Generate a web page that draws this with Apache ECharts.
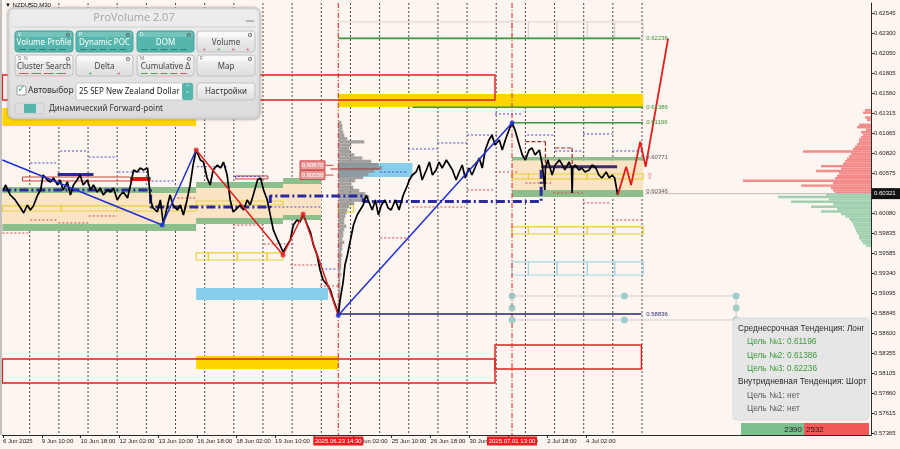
<!DOCTYPE html>
<html><head><meta charset="utf-8">
<script src="https://cdn.jsdelivr.net/npm/echarts@6.0.0/dist/echarts.min.js"></script>
<style>html,body{margin:0;padding:0;background:#fdf5ef;}#c{width:900px;height:449px;}</style>
</head><body><div id="c"></div>
<script>
// ---------------- DATA ----------------
const symbolTitle = '\u25BC NZDUSD,M30';
const yTicks = [0.62545,0.62300,0.62050,0.61805,0.61560,0.61315,0.61065,0.60820,0.60575,0.60080,0.59835,0.59585,0.59340,0.59095,0.58845,0.58600,0.58355,0.58105,0.57860,0.57615,0.57365];
const tickBars = [1,65,129,193,257,321,385,449,513,577,641,705,769,833,897,961];
const tickLabels = ['6 Jun 2025','9 Jun 10:00','10 Jun 18:00','12 Jun 02:00','13 Jun 10:00','16 Jun 18:00','18 Jun 02:00','19 Jun 10:00','20 Jun 18:00','24 Jun 02:00','25 Jun 10:00','26 Jun 18:00','30 Jun 02:00','1 Jul 10:00','2 Jul 18:00','4 Jul 02:00'];
const daySeparators = [45,93,141,189,237,285,333,381,429,477,525,573,621,669,717,765,813,861,909,957,1005,1053];
const crossBars = [553, 839];
const crossLabels = ['2025.06.23 14:30','2025.07.01 13:00'];
const currentPrice = 0.60321;

// close line [bar, price]
const priceLine = [[2,0.60366],[5,0.60428],[13,0.60304],[21,0.60243],[30,0.60144],[35,0.60082],[41,0.60181],[46,0.60119],[51,0.60169],[58,0.60304],[63,0.60366],[67,0.60551],[74,0.60489],[79,0.60465],[84,0.60514],[91,0.60428],[95,0.60489],[100,0.60366],[107,0.60465],[112,0.60304],[117,0.60428],[123,0.60489],[128,0.60551],[133,0.60428],[140,0.60489],[145,0.60366],[150,0.60428],[156,0.60341],[161,0.60391],[166,0.60304],[173,0.60366],[178,0.60341],[183,0.60391],[189,0.60243],[194,0.60304],[199,0.60341],[206,0.60267],[211,0.60428],[216,0.60613],[222,0.60588],[227,0.60637],[232,0.60613],[239,0.60637],[244,0.60243],[248,0.60144],[255,0.60095],[260,0.60243],[265,0.59947],[272,0.60181],[276,0.60304],[281,0.60181],[288,0.60119],[293,0.60181],[298,0.60058],[304,0.60243],[309,0.60428],[314,0.60674],[319,0.60859],[326,0.60736],[331,0.60711],[337,0.60514],[342,0.60428],[347,0.60613],[354,0.60674],[359,0.60637],[364,0.60711],[370,0.60551],[375,0.60243],[380,0.60095],[387,0.60144],[392,0.60181],[397,0.60119],[403,0.60243],[408,0.60181],[413,0.60304],[420,0.60489],[425,0.60514],[430,0.60366],[436,0.60243],[441,0.60058],[446,0.59873],[453,0.59749],[457,0.59687],[462,0.59601],[469,0.59687],[474,0.59749],[479,0.59934],[485,0.59996],[490,0.59971],[495,0.60070],[502,0.59934],[507,0.59848],[512,0.59687],[518,0.59564],[523,0.59379],[528,0.59256],[535,0.59194],[540,0.59132],[545,0.59009],[551,0.58886],[553,0.58820],
[556,0.59009],[561,0.59231],[564,0.59441],[568,0.59564],[573,0.59749],[578,0.59934],[584,0.60058],[589,0.60119],[594,0.60181],[599,0.60304],[602,0.60243],[609,0.60119],[614,0.60243],[619,0.60058],[624,0.60181],[630,0.60243],[635,0.60144],[640,0.60119],[647,0.60243],[653,0.60119],[660,0.60304],[665,0.60391],[670,0.60489],[675,0.60551],[681,0.60588],[686,0.60674],[691,0.60489],[698,0.60613],[703,0.60711],[708,0.60551],[714,0.60613],[719,0.60711],[724,0.60637],[731,0.60736],[736,0.60674],[741,0.60613],[747,0.60489],[752,0.60588],[757,0.60674],[762,0.60514],[768,0.60637],[773,0.60551],[780,0.60674],[785,0.60761],[790,0.60637],[795,0.60859],[801,0.60983],[806,0.61045],[811,0.60921],[818,0.60983],[823,0.60859],[828,0.60983],[834,0.61106],[839,0.61193],[844,0.61106],[851,0.60921],[856,0.60798],[861,0.60736],[867,0.60859],[872,0.60884],[877,0.60798],[884,0.60859],[889,0.60674],[893,0.60366],[894,0.60637],[898,0.60736],[905,0.60551],[910,0.60674],[917,0.60736],[922,0.60674],[926,0.60613],[933,0.60711],[937,0.60637],[938,0.60329],[939,0.60637],[943,0.60674],[949,0.60613],[954,0.60637],[959,0.60588],[966,0.60613],[971,0.60674],[977,0.60637],[982,0.60551],[987,0.60514],[994,0.60588],[999,0.60514],[1004,0.60551],[1008,0.60514],[1013,0.60304]];

const zigzagPivots = [[0,0.60736],[263,0.59934],[319,0.60859],[462,0.59564],[495,0.60070],[553,0.58820],[839,0.61193]];
const projection = [[1013,0.60304],[1027,0.60653],[1035,0.60428],[1050,0.60962],[1059,0.60653],[1096,0.62236]];

// zones [barFrom, barTo, priceTop, priceBottom]
const goldBands = [[0,319,0.61378,0.61156],[553,1055,0.61550,0.61390],[319,553,0.58318,0.58157]];
const peachZones = [[0,319,0.60329,0.59947],[319,462,0.60391,0.60021],[462,525,0.60440,0.60058],[839,1055,0.60730,0.60366]];
const greenBands = [[0,319,0.60403,0.60329],[0,319,0.59947,0.59860],[319,462,0.60465,0.60391],[319,462,0.60021,0.59947],[462,525,0.60514,0.60440],[462,525,0.60058,0.59996],[839,1055,0.60773,0.60730],[839,1055,0.60366,0.60280]];
const skyBands = [[319,536,0.59157,0.59009],[553,675,0.60699,0.60526]];
const yellowBoxes = [[0,97,0.60169,0.60107],[97,189,0.60169,0.60107],[189,319,0.60169,0.60107],[319,462,0.60230,0.60181],[319,339,0.59589,0.59502],[339,387,0.59589,0.59502],[387,436,0.59589,0.59502],[436,462,0.59589,0.59502],[553,578,0.60181,0.60095],[839,866,0.60563,0.60502],[866,963,0.60563,0.60502],[963,1055,0.60563,0.60502],[839,866,0.59910,0.59823],[866,913,0.59910,0.59823],[913,963,0.59910,0.59823],[963,1008,0.59910,0.59823],[1008,1055,0.59910,0.59823]];
const lightBlueBoxes = [[839,866,0.59478,0.59317],[866,913,0.59478,0.59317],[913,963,0.59478,0.59317],[963,1008,0.59478,0.59317],[1008,1055,0.59478,0.59317]];
const grayBoxes = [[553,839,0.62440,0.62241],[839,866,0.62440,0.62241],[866,913,0.62440,0.62241],[913,963,0.62440,0.62241],[963,1008,0.62440,0.62241],[1008,1055,0.62440,0.62241]];
const redBoxes = [[0,811,0.61785,0.61476],[0,811,0.58281,0.57985],[811,1052,0.58454,0.58157]];
const redThinBoxes = [[33,211,0.60526,0.60477],[384,437,0.60539,0.60502]];
const redFilled = [[211,244,0.60526,0.60477]];

// short dotted levels [barFrom, barTo, price]
const blueDotted = [[95,142,0.60847],[142,189,0.60773],[46,92,0.60699],[191,239,0.60588],[239,282,0.60477],[320,370,0.60653],[381,425,0.60533],[428,525,0.60156],[525,553,0.59391],[622,668,0.60588],[668,716,0.60872],[716,765,0.60946],[765,815,0.61044],[811,857,0.61304],[864,910,0.61044],[910,956,0.60847],[956,1004,0.61057],[1004,1053,0.60847]];
const redDotted = [[46,92,0.59996],[92,142,0.59959],[142,189,0.60045],[0,46,0.59835],[288,321,0.60267],[380,430,0.59934],[430,479,0.59700],[474,523,0.59441],[523,556,0.59182],[622,668,0.59774],[675,762,0.60156],[765,811,0.60366],[811,848,0.60588],[861,907,0.60452],[907,956,0.60329],[956,1001,0.60206],[1004,1053,0.59996]];
const darkRedSteps = [[861,0.60962,894,0.60962],[894,0.60962,894,0.60699],[910,0.60884,938,0.60884],[938,0.60884,938,0.60653]];
const pocLines = [[540,622,0.60625]];
const navyPoc = [[0,0.60366],[244,0.60366],[244,0.60156],[441,0.60156],[441,0.60292],[594,0.60292],[594,0.60224],[887,0.60224],[887,0.60653]];
const navyShort = [[91,150,0.60557]];
const purplePoc = [[887,0.60653],[1012,0.60653]];

const targetLevels = [[553,1050,0.62236],[675,1055,0.61386],[839,1055,0.61196]];
const lowLevel = [[553,1052,0.58836]];
const levelLabels = [0.62236,0.61386,0.61196,0.60771,0.60346,0.58836];
const labelBar = 1060;
const priceTags = [[490,531,0.60670],[490,531,0.60550]];
const arrowMark = [[1060,0.60530]];

const forwardDots = [[839,0.59058],[1024,0.59058],[1208,0.59058],[839,0.58910],[1208,0.58910],[839,0.58762],[1024,0.58762],[1208,0.58762]];
const forwardLines = [[839,1208,0.59058],[839,1208,0.58762]];

// volume profiles
const midProfileTop = 0.61200, midProfileBin = 0.0004, midProfileAnchor = 553;
const midProfileVol = [3,4,4,5,6,9,26,13,11,12,16,24,33,40,44,36,30,25,17,13,15,21,27,31,24,16,11,9,8,7,6,6,8,6,5,5,4,6,4,4,3,4,3,3,3,3,2,3,2,2,2,2,2,2,2,2,1,1,1];
const sellTop = 0.61350, buyTop = 0.60310, sideBin = 0.0003;
const sellVol = [6,8,0,6,4,0,12,14,5,10,8,10,12,12,14,16,18,68,20,22,24,26,28,50,30,55,32,34,36,128,38,70,40,38,36];
const buyVol = [45,93,42,80,38,60,34,50,30,26,22,20,18,17,16,15,14,12,12,10,8,5];
const deltaBuy = 2390, deltaSell = 2532;

const panelTitle = 'ProVolume 2.07';
const panelButtons = ['Volume Profile','Dynamic POC','DOM','Volume','Cluster Search','Delta','Cumulative \u0394','Map'];
const panelTags = ['V','P','D','','S  N','','M','F'];
const panelActive = [true,true,true,false,false,false,false,false];
const instrument = '25 SEP New Zealand Dollar';
const infoLines = [
  ['Среднесрочная Тенденция: Лонг','head'],
  ['Цель №1: 0.61196','up'],
  ['Цель №2: 0.61386','up'],
  ['Цель №3: 0.62236','up'],
  ['Внутридневная Тенденция: Шорт','head'],
  ['Цель №1: нет','none'],
  ['Цель №2: нет','none']
];

// ---------------- CHART ----------------
const X_MAX = 1430, Y_MIN = 0.57343, Y_MAX = 0.62673;
const FONT = 'Liberation Sans, Arial, sans-serif';
const chart = echarts.init(document.getElementById('c'));

function T(style){
  return Object.assign({textAlign: style.align, textVerticalAlign: style.verticalAlign}, style);
}
function zoneSeries(data, style, z){
  return {type:'custom', silent:true, z, clip:true, data,
    renderItem(params, api){
      const a = api.coord([api.value(0), api.value(2)]);
      const b = api.coord([api.value(1), api.value(3)]);
      return {type:'rect', shape:{x:a[0], y:a[1], width:b[0]-a[0], height:b[1]-a[1]}, style:Object.assign({}, style)};
    }};
}
function hSegSeries(data, style, z){
  return {type:'custom', silent:true, z, clip:true, data,
    renderItem(params, api){
      const a = api.coord([api.value(0), api.value(2)]);
      const b = api.coord([api.value(1), api.value(2)]);
      return {type:'line', shape:{x1:a[0], y1:a[1], x2:b[0], y2:b[1]}, style:Object.assign({}, style)};
    }};
}
function segSeries(data, style, z){
  return {type:'custom', silent:true, z, clip:true, data,
    renderItem(params, api){
      const a = api.coord([api.value(0), api.value(1)]);
      const b = api.coord([api.value(2), api.value(3)]);
      return {type:'line', shape:{x1:a[0], y1:a[1], x2:b[0], y2:b[1]}, style:Object.assign({}, style)};
    }};
}
function vLineSeries(bars, style, z){
  return {type:'custom', silent:true, z, clip:true, data: bars.map(b => [b]),
    renderItem(params, api){
      const a = api.coord([api.value(0), Y_MAX]);
      const b = api.coord([api.value(0), Y_MIN]);
      return {type:'line', shape:{x1:a[0], y1:a[1], x2:b[0], y2:b[1]}, style:Object.assign({}, style)};
    }};
}
function profileSeries(top, bin, vols, anchor, dir, color, z){
  const scale = 1.6456; // bars per unit of volume width
  return {type:'custom', silent:true, z, clip:true,
    data: vols.map((v, i) => [top - i * bin, v]),
    renderItem(params, api){
      const p = api.value(0), v = api.value(1);
      if (!v) return null;
      const xEnd = anchor + dir * v * scale;
      const a = api.coord([Math.min(anchor, xEnd), p + bin / 2]);
      const b = api.coord([Math.max(anchor, xEnd), p - bin / 2]);
      return {type:'rect', shape:{x:a[0], y:a[1], width:b[0]-a[0], height:Math.max(1, b[1]-a[1])}, style:{fill:color}};
    }};
}
function lineSeries(data, color, width, z, dash){
  return {type:'line', data, z, silent:true, symbol:'none', animation:false,
    lineStyle:{color, width, type: dash || 'solid'}, emphasis:{disabled:true}};
}

const levelColors = ['#3a8f3a','#3a8f3a','#3a8f3a','#555555','#555555','#2a2a80'];

const series = [
  vLineSeries(daySeparators, {stroke:'#4a4a4a', lineWidth:1, lineDash:[2,2]}, 1),
  zoneSeries(grayBoxes, {fill:'none', stroke:'#d9d4d0', lineWidth:1}, 2),
  zoneSeries(peachZones, {fill:'#fbe4c4'}, 2),
  zoneSeries(greenBands, {fill:'#8dbf8d'}, 3),
  zoneSeries(goldBands, {fill:'#ffd500'}, 3),
  zoneSeries(skyBands, {fill:'#87ceeb'}, 3),
  zoneSeries(yellowBoxes, {fill:'none', stroke:'#e8cf3a', lineWidth:1.2}, 4),
  zoneSeries(lightBlueBoxes, {fill:'none', stroke:'#a6d6e6', lineWidth:1.2}, 4),
  zoneSeries(redBoxes, {fill:'none', stroke:'#e02020', lineWidth:1.4}, 4),
  zoneSeries(redThinBoxes, {fill:'none', stroke:'#c84040', lineWidth:1}, 4),
  zoneSeries(redFilled, {fill:'#e81010'}, 4),
  profileSeries(midProfileTop, midProfileBin, midProfileVol, midProfileAnchor, 1, 'rgba(140,140,140,0.8)', 5),
  profileSeries(sellTop, sideBin, sellVol, X_MAX, -1, 'rgba(242,128,128,0.9)', 5),
  profileSeries(buyTop, sideBin, buyVol, X_MAX, -1, 'rgba(150,204,168,0.9)', 5),
  hSegSeries([[1058, X_MAX, currentPrice]], {stroke:'#bdbdbd', lineWidth:1}, 5),
  hSegSeries(blueDotted, {stroke:'#4a4ad6', lineWidth:1, lineDash:[2,2]}, 5),
  hSegSeries(redDotted, {stroke:'#d24a4a', lineWidth:1, lineDash:[2,2]}, 5),
  segSeries(darkRedSteps, {stroke:'#9a2c2c', lineWidth:1.2, lineDash:[4,2]}, 5),
  hSegSeries(pocLines, {stroke:'#a83030', lineWidth:1}, 6),
  vLineSeries(crossBars, {stroke:'#e02020', lineWidth:1, lineDash:[5,2,1,2]}, 6),
  lineSeries(navyPoc, '#2a2a9e', 3, 6, [9,3,2,3]),
  hSegSeries(navyShort, {stroke:'#2a2a9e', lineWidth:3}, 6),
  lineSeries(purplePoc, '#3e2c6e', 3, 6),
  hSegSeries(targetLevels, {stroke:'#3d9a3d', lineWidth:1.6}, 6),
  hSegSeries(lowLevel, {stroke:'#22226e', lineWidth:1.5}, 6),
  hSegSeries(forwardLines, {stroke:'#cfcfcf', lineWidth:1}, 6),
  segSeries([[1208,0.59058,1208,0.58762]], {stroke:'#cfcfcf', lineWidth:1}, 6),
  {type:'scatter', data:forwardDots, z:7, silent:true, symbolSize:7, itemStyle:{color:'#8ec4bf'}},
  lineSeries(priceLine, '#000000', 1.7, 8),
  lineSeries(zigzagPivots.slice(0,3), '#1f2fd6', 1.5, 9),
  lineSeries(zigzagPivots.slice(2,6), '#e02020', 1.5, 9),
  lineSeries(zigzagPivots.slice(5,7), '#1f2fd6', 1.5, 9),
  {type:'scatter', data:zigzagPivots.slice(1), z:10, silent:true, symbolSize:5,
    itemStyle:{color: p => (p.dataIndex >= 1 && p.dataIndex <= 3) ? '#e02020' : '#1f2fd6'}},
  lineSeries(projection, '#e51c1c', 1.8, 9),
  {type:'custom', silent:true, z:11, clip:false, data: levelLabels.map(p => [labelBar, p]),
    renderItem(params, api){
      const pt = api.coord([api.value(0), api.value(1)]);
      return {type:'text', x:pt[0], y:pt[1], style:T({text: api.value(1).toFixed(5), fill: levelColors[params.dataIndex], font:'6px '+FONT, align:'left', verticalAlign:'middle'})};
    }},
  {type:'custom', silent:true, z:11, clip:false, data: arrowMark,
    renderItem(params, api){
      const pt = api.coord([api.value(0), api.value(1)]);
      return {type:'text', x:pt[0], y:pt[1], style:T({text:'\u21E7', fill:'#ee7b7b', font:'9px DejaVu Sans', align:'left', verticalAlign:'middle'})};
    }},
  {type:'custom', silent:true, z:11, clip:false, data: priceTags,
    renderItem(params, api){
      const a = api.coord([api.value(0), api.value(2)]);
      const b = api.coord([api.value(1), api.value(2)]);
      const c = api.coord([api.value(1) + 14, api.value(2)]);
      return {type:'group', children:[
        {type:'line', shape:{x1:b[0], y1:b[1], x2:c[0], y2:c[1]}, style:{stroke:'#d04040', lineWidth:1}},
        {type:'rect', shape:{x:a[0], y:a[1]-4.5, width:b[0]-a[0], height:9}, style:{fill:'#e99a9a', stroke:'#d04848', lineWidth:1}},
        {type:'text', x:(a[0]+b[0])/2, y:a[1], style:T({text: api.value(2).toFixed(5), fill:'#ffffff', font:'6px '+FONT, align:'center', verticalAlign:'middle'})}
      ]};
    }}
];

chart.setOption({
  backgroundColor:'#fdf5ef',
  animation:false,
  grid:{left:2, right:29, top:3, bottom:14},
  xAxis:{type:'value', min:0, max:X_MAX,
    axisLine:{show:true, onZero:false, lineStyle:{color:'#2a2a2a', width:1}},
    axisTick:{show:true, customValues:tickBars, length:3, lineStyle:{color:'#2a2a2a'}},
    axisLabel:{show:true, customValues:tickBars, align:'left', fontSize:6, color:'#222', margin:3, fontFamily:FONT,
      formatter: v => { const i = tickBars.findIndex(b => Math.abs(b - v) < 0.5); return i >= 0 ? tickLabels[i] : ''; }},
    splitLine:{show:false}},
  yAxis:{type:'value', position:'right', min:Y_MIN, max:Y_MAX,
    axisLine:{show:true, onZero:false, lineStyle:{color:'#2a2a2a', width:1}},
    axisTick:{show:true, customValues:yTicks, length:3, lineStyle:{color:'#2a2a2a'}},
    axisLabel:{show:true, customValues:yTicks, fontSize:6, color:'#222', margin:3, fontFamily:FONT,
      formatter: v => Number(v).toFixed(5)},
    splitLine:{show:false}},
  series
});

// ---------------- OVERLAYS (panel, info box, tags) ----------------
const G = [];
function rect(x,y,w,h,style,r){ G.push({type:'rect', z:100, shape:{x,y,width:w,height:h,r:r||0}, style}); }
function text(x,y,s,fill,font,align,va){ G.push({type:'text', z:101, x, y, style:T({text:s, fill, font, align:align||'left', verticalAlign:va||'middle'})}); }
function line(x1,y1,x2,y2,stroke,w){ G.push({type:'line', z:101, shape:{x1,y1,x2,y2}, style:{stroke, lineWidth:w||1}}); }

line(1,0,1,435,'#8a8a8a',1);
text(5,5,symbolTitle,'#111','6px '+FONT,'left','middle');

rect(8,8,252,111,{fill:new echarts.graphic.LinearGradient(0,0,0,1,[{offset:0,color:'#eeeeee'},{offset:1,color:'#dcdcdc'}]), stroke:'#c6c6c6', lineWidth:1, shadowBlur:3, shadowColor:'rgba(0,0,0,0.25)'},6);
text(134,18,panelTitle,'#a4a4a4','11px Open Sans','center','middle');
line(246,21,254,21,'#a0a0a0',1.5);
line(12,27,256,27,'#cfcfcf',1);
const colX = [15,76,137,197], colW = [58,57,57,58];
panelButtons.forEach((label, i) => {
  const x = colX[i % 4], w = colW[i % 4], y = i < 4 ? 31 : 55, h = 21;
  const teal = panelActive[i];
  rect(x, y, w, h, teal ? {fill:'#55b6ad', stroke:'#4aa39b', lineWidth:1}
    : {fill:new echarts.graphic.LinearGradient(0,0,0,1,[{offset:0,color:'#f6f6f6'},{offset:1,color:'#dddddd'}]), stroke:'#c2c2c2', lineWidth:1}, 3);
  rect(x+1, y+1, w-2, 5, {fill: teal ? 'rgba(255,255,255,0.18)' : 'rgba(255,255,255,0.5)'}, 2);
  if (panelTags[i]) text(x+3, y+4, panelTags[i], teal ? '#e8f6f4' : '#777', '5px '+FONT, 'left', 'middle');
  text(x+w-5, y+4, '\u2699', '#555', '6px DejaVu Sans', 'center', 'middle');
  text(x+w/2, y+11.5, label, teal ? '#ffffff' : '#454545', '8px Noto Sans', 'center', 'middle');
  const dashCols = teal ? ['#2c7f77','#2c7f77','#2c7f77','#2c7f77','#2c7f77'] :
    (i === 4 ? ['#d35b5b','#d35b5b','#d35b5b','#d35b5b'] : i === 6 ? ['#5aa05a','#5aa05a','#d35b5b','#d35b5b','#d35b5b'] : []);
  dashCols.forEach((c, k) => line(x+4 + k*(w-8)/dashCols.length, y+18.5, x+4 + (k+1)*(w-8)/dashCols.length - 3, y+18.5, c, 1));
  if (i === 3 || i === 5) {
    const dots = i === 3 ? ['#d35b5b','#5aa05a','#d35b5b','#d35b5b'] : ['#5aa05a','#d35b5b'];
    dots.forEach((c, k) => G.push({type:'circle', z:101, shape:{cx:x + (k+0.5)*w/dots.length, cy:y+18.5, r:1}, style:{fill:c}}));
  }
});
rect(17,86,9,9,{fill:'#ffffff', stroke:'#9a9a9a', lineWidth:1},1);
text(21.5,89.5,'\u2713','#3aa59b','10px DejaVu Sans','center','middle');
text(28,91,'Автовыбор','#333','8.5px Noto Sans','left','middle');
rect(76,83,117,17,{fill:'#ffffff', stroke:'#c8c8c8', lineWidth:1},2);
text(79,91.5,instrument,'#222','8px Noto Sans','left','middle');
rect(182,83,11,17,{fill:'#55b6ad'},2);
text(187.5,88,'\u02C4','#fff','7px DejaVu Sans','center','middle');
text(187.5,95.5,'\u02C5','#fff','7px DejaVu Sans','center','middle');
rect(197,83,58,17,{fill:new echarts.graphic.LinearGradient(0,0,0,1,[{offset:0,color:'#f6f6f6'},{offset:1,color:'#dddddd'}]), stroke:'#c2c2c2', lineWidth:1},3);
text(226,91.5,'Настройки','#333','8px Noto Sans','center','middle');
rect(15,103,29,11,{fill:'#dedede', stroke:'#cacaca', lineWidth:1},2);
rect(24,104,12,9,{fill:'#55b6ad'},1);
text(49,108.5,'Динамический Forward-point','#333','8px Noto Sans','left','middle');

rect(733,318,136,102,{fill:'#e6e6e6', stroke:'#dadada', lineWidth:1},4);
const infoY = [329,342,355.5,368.5,382,395.5,409];
infoLines.forEach((ln, i) => {
  const col = ln[1] === 'up' ? '#3c9a3c' : ln[1] === 'none' ? '#5a5a5a' : '#2a2a2a';
  text(ln[1] === 'head' ? 738 : 747, infoY[i], ln[0], col, '8.3px '+FONT, 'left', 'middle');
});
rect(741,423,63,12,{fill:'#7ebf90'});
rect(804,423,65,12,{fill:'#f25a5a'});
text(802,429.5,String(deltaBuy),'#1e1e1e','8px '+FONT,'right','middle');
text(806,429.5,String(deltaSell),'#3a0a0a','8px '+FONT,'left','middle');

const cy = chart.convertToPixel({yAxisIndex:0}, currentPrice);
rect(872, cy-5.5, 28, 11, {fill:'#111'});
text(874, cy, currentPrice.toFixed(5), '#ffffff', '6px '+FONT, 'left', 'middle');

crossBars.forEach((b, i) => {
  const cx = chart.convertToPixel({xAxisIndex:0}, b);
  rect(cx-25, 436.5, 50, 9, {fill:'#ee1c1c'});
  text(cx, 441, crossLabels[i], '#ffffff', '6px '+FONT, 'center', 'middle');
});

chart.setOption({graphic: G});
</script></body></html>
